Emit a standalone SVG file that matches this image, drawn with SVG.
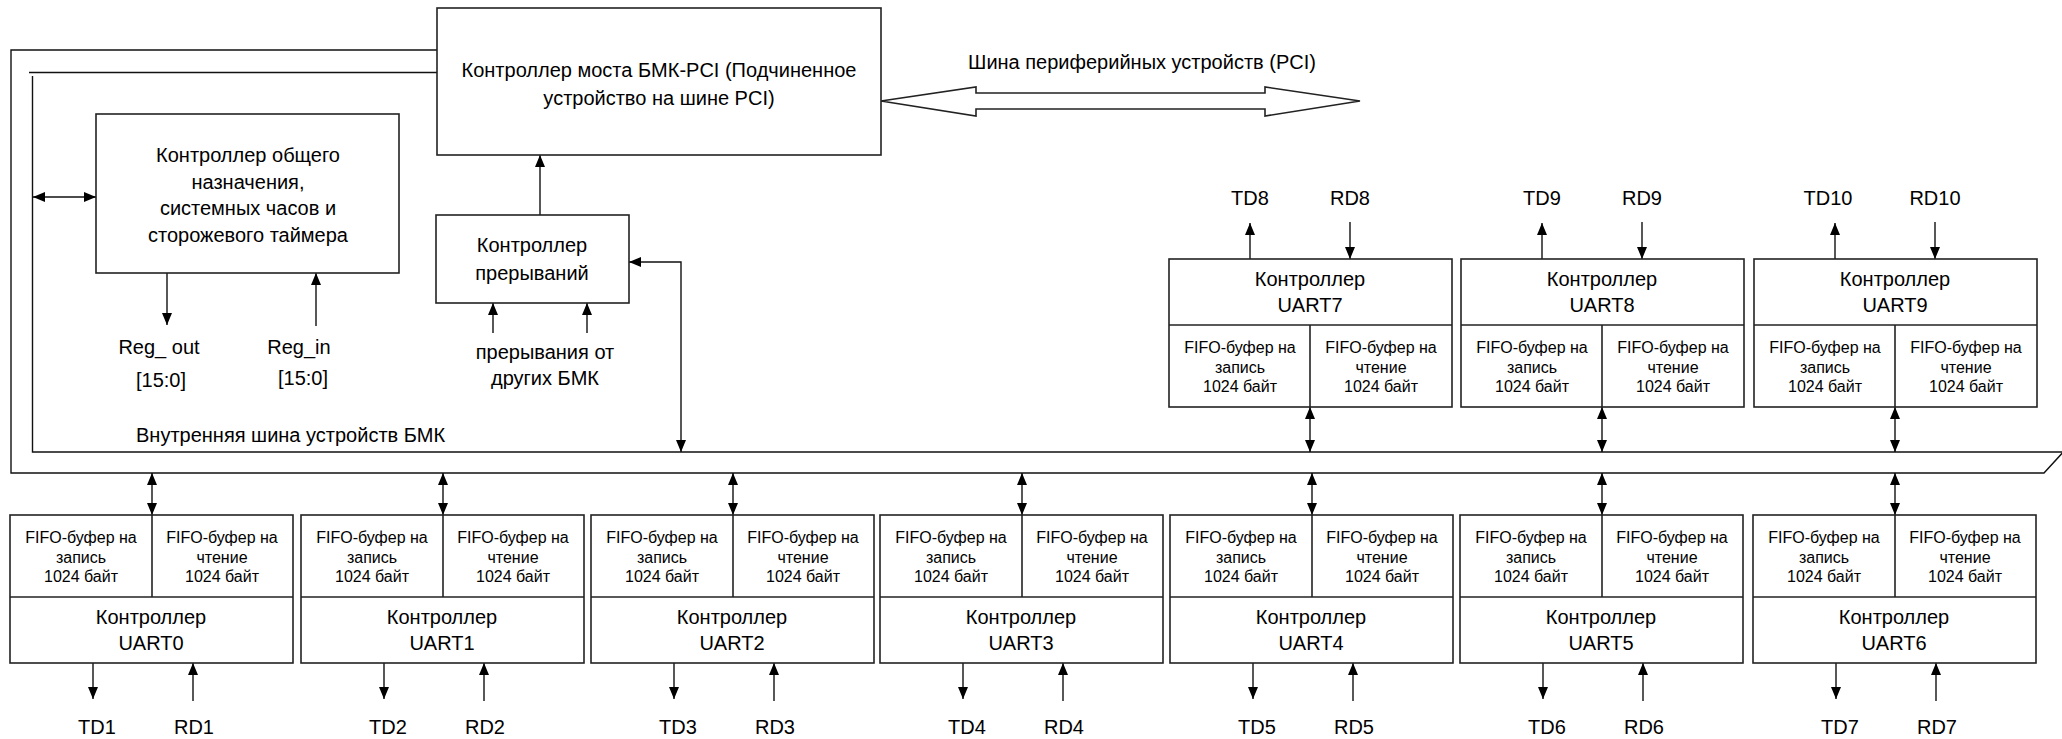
<svg xmlns="http://www.w3.org/2000/svg" width="2062" height="739" viewBox="0 0 2062 739">
<style>
.b{fill:#fff;stroke:#222;stroke-width:1.6}
.l{fill:none;stroke:#111;stroke-width:1.4}
.a{marker-end:url(#ah)}
.d{marker-start:url(#ah);marker-end:url(#ah)}
text{font-family:"Liberation Sans",Arial,sans-serif;fill:#000;text-anchor:middle}
.t{font-size:20px}
.s{font-size:16px}
</style>
<defs>
<marker id="ah" markerUnits="userSpaceOnUse" markerWidth="12" markerHeight="10" refX="12" refY="5" orient="auto-start-reverse" viewBox="0 0 12 10"><path d="M0,0 L12,5 L0,10 z" fill="#000"/></marker>
</defs>
<rect width="2062" height="739" fill="#fff"/>

<g id="connectors">
<polyline class="l" points="437,50 11,50 11,473 2044,473 2066,449"/>
<line class="l" x1="437" y1="72.5" x2="29" y2="72.5"/>
<polyline class="l" points="32.5,76 32.5,452 2062,452"/>
<line class="l d" x1="33" y1="197" x2="96" y2="197"/>
<line class="l a" x1="167" y1="273" x2="167" y2="325"/>
<line class="l a" x1="316" y1="326" x2="316" y2="273"/>
<line class="l a" x1="540" y1="215" x2="540" y2="155"/>
<line class="l a" x1="493" y1="333" x2="493" y2="303"/>
<line class="l a" x1="587" y1="333" x2="587" y2="303"/>
<polyline class="l d" points="629,262 681,262 681,452"/>
<polygon class="b" points="881,101 976,87 976,93 1265,93 1265,87 1360,101 1265,116 1265,109 976,109 976,116"/>
<!-- bottom row bus links and IO -->
<line class="l d" x1="152" y1="473" x2="152" y2="515"/>
<line class="l a" x1="93" y1="663" x2="93" y2="699"/>
<line class="l a" x1="193" y1="701" x2="193" y2="663"/>
<line class="l d" x1="443" y1="473" x2="443" y2="515"/>
<line class="l a" x1="384" y1="663" x2="384" y2="699"/>
<line class="l a" x1="484" y1="701" x2="484" y2="663"/>
<line class="l d" x1="733" y1="473" x2="733" y2="515"/>
<line class="l a" x1="674" y1="663" x2="674" y2="699"/>
<line class="l a" x1="774" y1="701" x2="774" y2="663"/>
<line class="l d" x1="1022" y1="473" x2="1022" y2="515"/>
<line class="l a" x1="963" y1="663" x2="963" y2="699"/>
<line class="l a" x1="1063" y1="701" x2="1063" y2="663"/>
<line class="l d" x1="1312" y1="473" x2="1312" y2="515"/>
<line class="l a" x1="1253" y1="663" x2="1253" y2="699"/>
<line class="l a" x1="1353" y1="701" x2="1353" y2="663"/>
<line class="l d" x1="1602" y1="473" x2="1602" y2="515"/>
<line class="l a" x1="1543" y1="663" x2="1543" y2="699"/>
<line class="l a" x1="1643" y1="701" x2="1643" y2="663"/>
<line class="l d" x1="1895" y1="473" x2="1895" y2="515"/>
<line class="l a" x1="1836" y1="663" x2="1836" y2="699"/>
<line class="l a" x1="1936" y1="701" x2="1936" y2="663"/>
<!-- top row -->
<line class="l d" x1="1310" y1="407" x2="1310" y2="452"/>
<line class="l a" x1="1250" y1="259" x2="1250" y2="223"/>
<line class="l a" x1="1350" y1="222" x2="1350" y2="259"/>
<line class="l d" x1="1602" y1="407" x2="1602" y2="452"/>
<line class="l a" x1="1542" y1="259" x2="1542" y2="223"/>
<line class="l a" x1="1642" y1="222" x2="1642" y2="259"/>
<line class="l d" x1="1895" y1="407" x2="1895" y2="452"/>
<line class="l a" x1="1835" y1="259" x2="1835" y2="223"/>
<line class="l a" x1="1935" y1="222" x2="1935" y2="259"/>
</g>

<g id="labels">
<text class="t" x="1142" y="69">Шина периферийных устройств (PCI)</text>
<text class="t" x="136" y="442" style="text-anchor:start">Внутренняя шина устройств БМК</text>
<text class="t" x="159" y="354">Reg_ out</text>
<text class="t" x="161" y="387">[15:0]</text>
<text class="t" x="299" y="354">Reg_in</text>
<text class="t" x="303" y="385">[15:0]</text>
<text class="t" x="545" y="359">прерывания от</text>
<text class="t" x="545" y="385">других БМК</text>
<text class="t" x="97" y="734">TD1</text><text class="t" x="194" y="734">RD1</text>
<text class="t" x="388" y="734">TD2</text><text class="t" x="485" y="734">RD2</text>
<text class="t" x="678" y="734">TD3</text><text class="t" x="775" y="734">RD3</text>
<text class="t" x="967" y="734">TD4</text><text class="t" x="1064" y="734">RD4</text>
<text class="t" x="1257" y="734">TD5</text><text class="t" x="1354" y="734">RD5</text>
<text class="t" x="1547" y="734">TD6</text><text class="t" x="1644" y="734">RD6</text>
<text class="t" x="1840" y="734">TD7</text><text class="t" x="1937" y="734">RD7</text>
<text class="t" x="1250" y="205">TD8</text><text class="t" x="1350" y="205">RD8</text>
<text class="t" x="1542" y="205">TD9</text><text class="t" x="1642" y="205">RD9</text>
<text class="t" x="1828" y="205">TD10</text><text class="t" x="1935" y="205">RD10</text>
</g>

<g id="bridge">
<rect class="b" x="437" y="8" width="444" height="147"/>
<text class="t" x="659" y="77">Контроллер моста БМК-PCI (Подчиненное</text>
<text class="t" x="659" y="105">устройство на шине PCI)</text>
</g>

<g id="general">
<rect class="b" x="96" y="114" width="303" height="159"/>
<text class="t" x="248" y="162">Контроллер общего</text>
<text class="t" x="248" y="189">назначения,</text>
<text class="t" x="248" y="215">системных часов и</text>
<text class="t" x="248" y="242">сторожевого таймера</text>
</g>

<g id="interrupt">
<rect class="b" x="436" y="215" width="193" height="88"/>
<text class="t" x="532" y="252">Контроллер</text>
<text class="t" x="532" y="280">прерываний</text>
</g>

<g id="uart0">
<rect class="b" x="10" y="515" width="283" height="148"/>
<line class="b" x1="10" y1="597" x2="293" y2="597"/><line class="b" x1="152" y1="515" x2="152" y2="597"/>
<text class="s" x="81" y="542.5">FIFO-буфер на</text><text class="s" x="81" y="562.5">запись</text><text class="s" x="81" y="581.5">1024 байт</text>
<text class="s" x="222" y="542.5">FIFO-буфер на</text><text class="s" x="222" y="562.5">чтение</text><text class="s" x="222" y="581.5">1024 байт</text>
<text class="t" x="151" y="624">Контроллер</text><text class="t" x="151" y="650">UART0</text>
</g>
<g id="uart1">
<rect class="b" x="301" y="515" width="283" height="148"/>
<line class="b" x1="301" y1="597" x2="584" y2="597"/><line class="b" x1="443" y1="515" x2="443" y2="597"/>
<text class="s" x="372" y="542.5">FIFO-буфер на</text><text class="s" x="372" y="562.5">запись</text><text class="s" x="372" y="581.5">1024 байт</text>
<text class="s" x="513" y="542.5">FIFO-буфер на</text><text class="s" x="513" y="562.5">чтение</text><text class="s" x="513" y="581.5">1024 байт</text>
<text class="t" x="442" y="624">Контроллер</text><text class="t" x="442" y="650">UART1</text>
</g>
<g id="uart2">
<rect class="b" x="591" y="515" width="283" height="148"/>
<line class="b" x1="591" y1="597" x2="874" y2="597"/><line class="b" x1="733" y1="515" x2="733" y2="597"/>
<text class="s" x="662" y="542.5">FIFO-буфер на</text><text class="s" x="662" y="562.5">запись</text><text class="s" x="662" y="581.5">1024 байт</text>
<text class="s" x="803" y="542.5">FIFO-буфер на</text><text class="s" x="803" y="562.5">чтение</text><text class="s" x="803" y="581.5">1024 байт</text>
<text class="t" x="732" y="624">Контроллер</text><text class="t" x="732" y="650">UART2</text>
</g>
<g id="uart3">
<rect class="b" x="880" y="515" width="283" height="148"/>
<line class="b" x1="880" y1="597" x2="1163" y2="597"/><line class="b" x1="1022" y1="515" x2="1022" y2="597"/>
<text class="s" x="951" y="542.5">FIFO-буфер на</text><text class="s" x="951" y="562.5">запись</text><text class="s" x="951" y="581.5">1024 байт</text>
<text class="s" x="1092" y="542.5">FIFO-буфер на</text><text class="s" x="1092" y="562.5">чтение</text><text class="s" x="1092" y="581.5">1024 байт</text>
<text class="t" x="1021" y="624">Контроллер</text><text class="t" x="1021" y="650">UART3</text>
</g>
<g id="uart4">
<rect class="b" x="1170" y="515" width="283" height="148"/>
<line class="b" x1="1170" y1="597" x2="1453" y2="597"/><line class="b" x1="1312" y1="515" x2="1312" y2="597"/>
<text class="s" x="1241" y="542.5">FIFO-буфер на</text><text class="s" x="1241" y="562.5">запись</text><text class="s" x="1241" y="581.5">1024 байт</text>
<text class="s" x="1382" y="542.5">FIFO-буфер на</text><text class="s" x="1382" y="562.5">чтение</text><text class="s" x="1382" y="581.5">1024 байт</text>
<text class="t" x="1311" y="624">Контроллер</text><text class="t" x="1311" y="650">UART4</text>
</g>
<g id="uart5">
<rect class="b" x="1460" y="515" width="283" height="148"/>
<line class="b" x1="1460" y1="597" x2="1743" y2="597"/><line class="b" x1="1602" y1="515" x2="1602" y2="597"/>
<text class="s" x="1531" y="542.5">FIFO-буфер на</text><text class="s" x="1531" y="562.5">запись</text><text class="s" x="1531" y="581.5">1024 байт</text>
<text class="s" x="1672" y="542.5">FIFO-буфер на</text><text class="s" x="1672" y="562.5">чтение</text><text class="s" x="1672" y="581.5">1024 байт</text>
<text class="t" x="1601" y="624">Контроллер</text><text class="t" x="1601" y="650">UART5</text>
</g>
<g id="uart6">
<rect class="b" x="1753" y="515" width="283" height="148"/>
<line class="b" x1="1753" y1="597" x2="2036" y2="597"/><line class="b" x1="1895" y1="515" x2="1895" y2="597"/>
<text class="s" x="1824" y="542.5">FIFO-буфер на</text><text class="s" x="1824" y="562.5">запись</text><text class="s" x="1824" y="581.5">1024 байт</text>
<text class="s" x="1965" y="542.5">FIFO-буфер на</text><text class="s" x="1965" y="562.5">чтение</text><text class="s" x="1965" y="581.5">1024 байт</text>
<text class="t" x="1894" y="624">Контроллер</text><text class="t" x="1894" y="650">UART6</text>
</g>

<g id="uart7">
<rect class="b" x="1169" y="259" width="283" height="148"/>
<line class="b" x1="1169" y1="325" x2="1452" y2="325"/><line class="b" x1="1310" y1="325" x2="1310" y2="407"/>
<text class="t" x="1310" y="286">Контроллер</text><text class="t" x="1310" y="312">UART7</text>
<text class="s" x="1240" y="352.5">FIFO-буфер на</text><text class="s" x="1240" y="372.5">запись</text><text class="s" x="1240" y="391.5">1024 байт</text>
<text class="s" x="1381" y="352.5">FIFO-буфер на</text><text class="s" x="1381" y="372.5">чтение</text><text class="s" x="1381" y="391.5">1024 байт</text>
</g>
<g id="uart8">
<rect class="b" x="1461" y="259" width="283" height="148"/>
<line class="b" x1="1461" y1="325" x2="1744" y2="325"/><line class="b" x1="1602" y1="325" x2="1602" y2="407"/>
<text class="t" x="1602" y="286">Контроллер</text><text class="t" x="1602" y="312">UART8</text>
<text class="s" x="1532" y="352.5">FIFO-буфер на</text><text class="s" x="1532" y="372.5">запись</text><text class="s" x="1532" y="391.5">1024 байт</text>
<text class="s" x="1673" y="352.5">FIFO-буфер на</text><text class="s" x="1673" y="372.5">чтение</text><text class="s" x="1673" y="391.5">1024 байт</text>
</g>
<g id="uart9">
<rect class="b" x="1754" y="259" width="283" height="148"/>
<line class="b" x1="1754" y1="325" x2="2037" y2="325"/><line class="b" x1="1895" y1="325" x2="1895" y2="407"/>
<text class="t" x="1895" y="286">Контроллер</text><text class="t" x="1895" y="312">UART9</text>
<text class="s" x="1825" y="352.5">FIFO-буфер на</text><text class="s" x="1825" y="372.5">запись</text><text class="s" x="1825" y="391.5">1024 байт</text>
<text class="s" x="1966" y="352.5">FIFO-буфер на</text><text class="s" x="1966" y="372.5">чтение</text><text class="s" x="1966" y="391.5">1024 байт</text>
</g>
</svg>
